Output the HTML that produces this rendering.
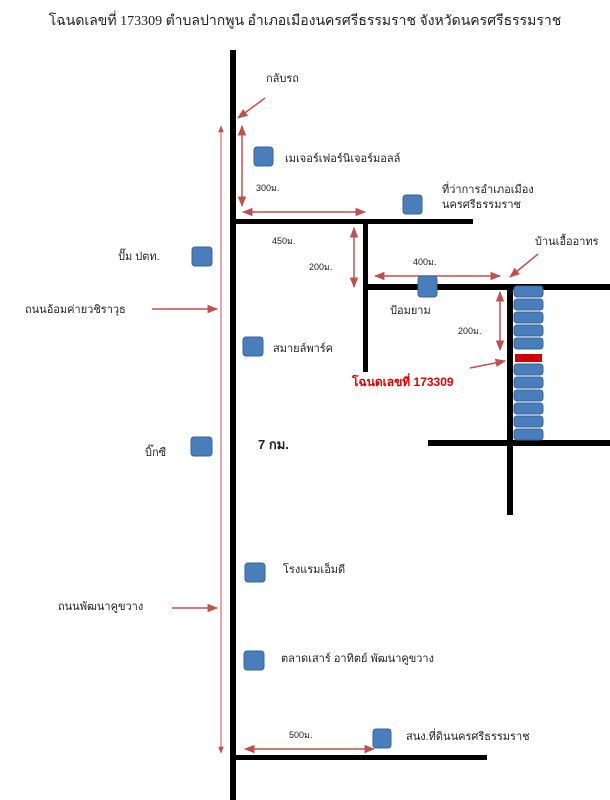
<!DOCTYPE html>
<html><head><meta charset="utf-8"><style>
html,body{margin:0;padding:0;background:#fff;width:610px;height:800px;overflow:hidden}
svg{display:block}
text{font-family:"Liberation Sans","Noto Sans CJK SC",sans-serif;font-size:11px;fill:#222}
.t{font-family:"Liberation Serif",serif;font-size:14px}
.s{font-size:9px}
</style></head><body>
<svg width="610" height="800" viewBox="0 0 610 800" xmlns="http://www.w3.org/2000/svg">
<defs>
<marker id="a" viewBox="0 0 10 10" refX="9" refY="5" markerWidth="7" markerHeight="7" orient="auto-start-reverse"><path d="M0,1 L10,5 L0,9 z" fill="#c0504d"/></marker>
</defs>
<text class="t" x="305" y="25" text-anchor="middle">โฉนดเลขที่ 173309 ตำบลปากพูน อำเภอเมืองนครศรีธรรมราช จังหวัดนครศรีธรรมราช</text>
<!-- roads -->
<g fill="#000">
<rect x="230" y="50" width="6" height="750"/>
<rect x="233" y="219" width="240" height="5"/>
<rect x="363" y="222" width="5" height="150"/>
<rect x="365" y="284" width="245" height="6"/>
<rect x="507" y="287" width="6" height="228"/>
<rect x="428" y="440" width="182" height="6"/>
<rect x="233" y="755" width="254" height="5"/>
</g>
<!-- red arrows -->
<g stroke="#c0504d" stroke-width="1.5" fill="none">
<line x1="221" y1="126" x2="221" y2="753" stroke-width="1" marker-start="url(#a)" marker-end="url(#a)"/>
<line x1="265" y1="98" x2="238" y2="118" marker-end="url(#a)"/>
<line x1="242" y1="126" x2="242" y2="206" marker-start="url(#a)" marker-end="url(#a)"/>
<line x1="243" y1="212" x2="365" y2="212" marker-start="url(#a)" marker-end="url(#a)"/>
<line x1="354" y1="228" x2="354" y2="287" marker-start="url(#a)" marker-end="url(#a)"/>
<line x1="375" y1="276" x2="500" y2="276" marker-start="url(#a)" marker-end="url(#a)"/>
<line x1="538" y1="254" x2="510" y2="277" marker-end="url(#a)"/>
<line x1="500" y1="292" x2="500" y2="350" marker-start="url(#a)" marker-end="url(#a)"/>
<line x1="470" y1="368" x2="505" y2="361" marker-end="url(#a)"/>
<line x1="152" y1="309" x2="217" y2="309" marker-end="url(#a)"/>
<line x1="172" y1="608" x2="217" y2="608" marker-end="url(#a)"/>
<line x1="245" y1="749" x2="374" y2="749" marker-start="url(#a)" marker-end="url(#a)"/>
</g>
<!-- blue squares -->
<g fill="#4a7ebb" stroke="#3a6396" stroke-width="1">
<rect x="254" y="147" width="19" height="19" rx="3"/>
<rect x="403" y="195" width="19" height="19" rx="3"/>
<rect x="192" y="247" width="20" height="19" rx="3"/>
<rect x="243" y="337" width="20" height="19" rx="3"/>
<rect x="191" y="437" width="21" height="19" rx="3"/>
<rect x="245" y="563" width="20" height="19" rx="3"/>
<rect x="244" y="651" width="20" height="19" rx="3"/>
<rect x="373" y="729" width="18" height="19" rx="3"/>
<rect x="418" y="276" width="19" height="21" rx="3"/>
</g>
<g fill="#4a7ebb" stroke="#3a6396" stroke-width="1">
<rect x="514" y="286" width="29" height="11" rx="3"/>
<rect x="514" y="299" width="29" height="11" rx="3"/>
<rect x="514" y="312" width="29" height="11" rx="3"/>
<rect x="514" y="325" width="29" height="11" rx="3"/>
<rect x="514" y="338" width="29" height="11" rx="3"/>
<rect x="514" y="364" width="29" height="11" rx="3"/>
<rect x="514" y="377" width="29" height="11" rx="3"/>
<rect x="514" y="390" width="29" height="11" rx="3"/>
<rect x="514" y="403" width="29" height="11" rx="3"/>
<rect x="514" y="416" width="29" height="11" rx="3"/>
<rect x="514" y="429" width="29" height="11" rx="3"/>
</g>
<rect x="515" y="354" width="27" height="8" fill="#d00000"/>
<!-- labels -->
<text x="266" y="82">กลับรถ</text>
<text x="285" y="162">เมเจอร์เฟอร์นิเจอร์มอลล์</text>
<text class="s" x="256" y="191">300ม.</text>
<text x="442" y="193">ที่ว่าการอำเภอเมือง</text>
<text x="442" y="208">นครศรีธรรมราช</text>
<text class="s" x="272" y="244">450ม.</text>
<text class="s" x="309" y="270">200ม.</text>
<text class="s" x="413" y="265">400ม.</text>
<text x="535" y="245">บ้านเอื้ออาทร</text>
<text x="390" y="314">ป้อมยาม</text>
<text class="s" x="458" y="334">200ม.</text>
<text x="352" y="386" style="fill:#e00000;font-weight:bold;font-size:12px">โฉนดเลขที่ 173309</text>
<text x="118" y="260">ปั๊ม ปตท.</text>
<text x="25" y="313">ถนนอ้อมค่ายวชิราวุธ</text>
<text x="273" y="352">สมายล์พาร์ค</text>
<text x="145" y="456">บิ๊กซี</text>
<text x="258" y="449" style="font-weight:bold;font-size:13px">7 กม.</text>
<text x="283" y="573">โรงแรมเอ็มดี</text>
<text x="58" y="610">ถนนพัฒนาคูขวาง</text>
<text x="281" y="662">ตลาดเสาร์ อาทิตย์ พัฒนาคูขวาง</text>
<text class="s" x="289" y="738">500ม.</text>
<text x="406" y="740">สนง.ที่ดินนครศรีธรรมราช</text>
</svg>
</body></html>
